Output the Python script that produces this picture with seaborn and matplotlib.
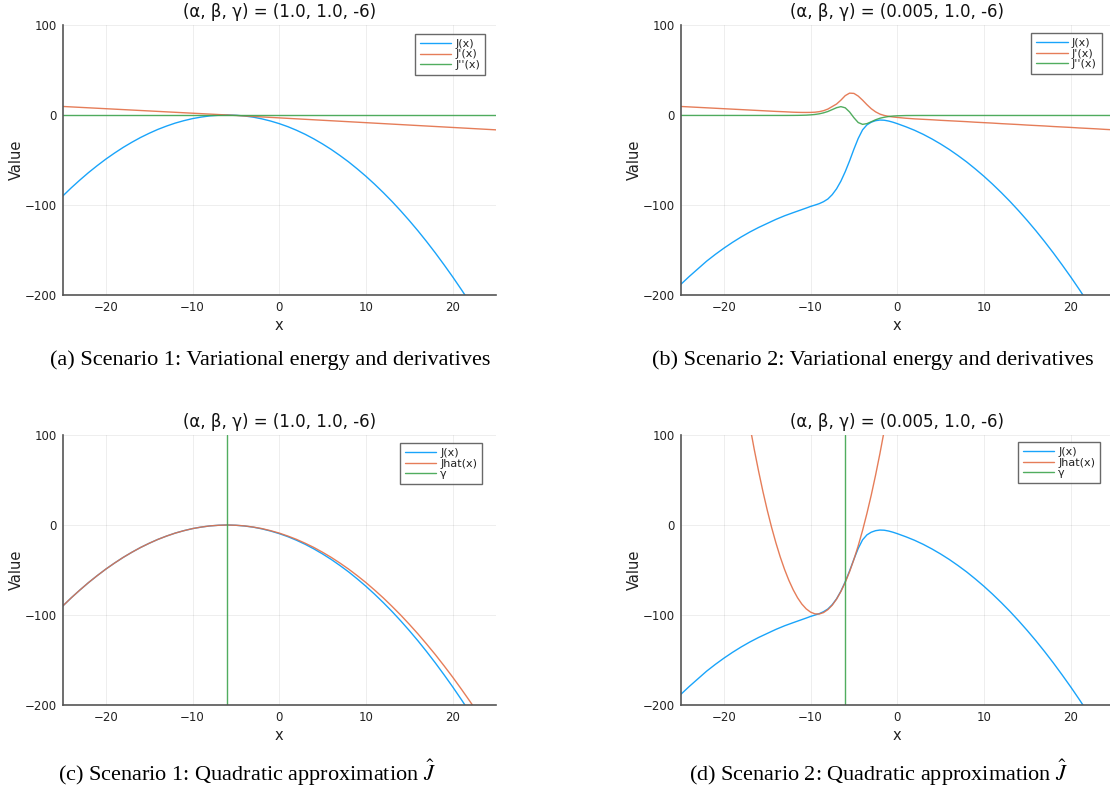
import numpy as np
import pandas as pd
import matplotlib
matplotlib.use("Agg")
import matplotlib.pyplot as plt
import seaborn as sns

# ---------------- data ----------------
# Scenario 1 : J(x) on an integer grid
X1 = list(range(-25, 26))
J1 = [-90.3, -81.0, -72.3, -64.0, -56.3, -49.0, -42.3, -36.0, -30.3, -25.0,
      -20.3, -16.0, -12.3, -9.0, -6.3, -4.0, -2.3, -1.0, -0.3, 0.0,
      -0.3, -1.1, -2.4, -4.3, -6.7, -9.6, -13.0, -17.0, -21.5, -26.6,
      -32.2, -38.3, -45.0, -52.1, -59.9, -68.1, -76.9, -86.2, -96.0, -106.4,
      -117.3, -128.7, -140.7, -153.2, -166.3, -179.8, -193.9, -208.5, -223.7, -239.4,
      -255.6]
JHAT1 = [-90.3, -81.0, -72.3, -64.0, -56.3, -49.0, -42.3, -36.0, -30.3, -25.0,
         -20.3, -16.0, -12.3, -9.0, -6.3, -4.0, -2.3, -1.0, -0.3, 0.0,
         -0.3, -1.0, -2.3, -4.0, -6.3, -9.0, -12.3, -16.0, -20.3, -25.0,
         -30.3, -36.0, -42.3, -49.0, -56.3, -64.0, -72.3, -81.0, -90.3, -100.0,
         -110.3, -121.0, -132.3, -144.0, -156.3, -169.0, -182.3, -196.0, -210.3, -225.0,
         -240.3]
X1D = [-25, -6, 25]
DJ1 = [9.5, 0.0, -16.5]
X1DD = [-25, 25]
DDJ1 = [-0.5, -0.5]

# Scenario 2 : finer grid around the transition
X2 = ([float(v) for v in range(-25, -11)]
      + [-11.5, -11.0, -10.5, -10.0, -9.5, -9.0, -8.5, -8.0, -7.5, -7.0, -6.5, -6.0,
         -5.5, -5.0, -4.5, -4.0, -3.5, -3.0, -2.5, -2.0, -1.5, -1.0, -0.5, 0.0]
      + [float(v) for v in range(1, 26)])
J2 = [-188.5, -179.5, -171.0, -162.5, -155.0, -148.0, -141.5, -135.5, -130.0, -125.0,
      -120.5, -116.0, -112.0, -108.5,
      -106.8, -105.1, -103.4, -101.6, -100.1, -98.5, -96.3, -93.3, -88.5, -82.0, -73.5, -63.0,
      -51.0, -38.0, -26.0, -16.5, -11.0, -8.0, -6.3, -5.6, -5.8, -6.7, -8.0, -9.6,
      -13.1, -17.0, -21.5, -26.6, -32.2, -38.3, -45.0, -52.1, -59.9, -68.1,
      -76.9, -86.2, -96.0, -106.4, -117.3, -128.7, -140.7, -153.2, -166.3, -179.8,
      -193.9, -208.5, -223.7, -239.4, -255.6]
DJ2 = [9.5, 9.0, 8.5, 8.0, 7.5, 7.0, 6.5, 6.0, 5.5, 5.0,
       4.5, 4.0, 3.6, 3.1,
       2.96, 2.86, 2.85, 2.9, 3.1, 3.7, 4.8, 6.6, 9.4, 12.2, 16.5, 21.5,
       24.3, 24.0, 21.0, 16.5, 11.5, 7.0, 3.5, 1.0, -0.5, -1.5, -2.2, -2.7,
       -3.6, -4.3, -4.8, -5.3, -5.9, -6.4, -6.9, -7.4, -8.0, -8.5,
       -9.0, -9.6, -10.1, -10.6, -11.2, -11.7, -12.2, -12.8, -13.3, -13.8,
       -14.4, -14.9, -15.4, -16.0, -16.5]
DDJ2 = [-0.5, -0.5, -0.5, -0.5, -0.5, -0.5, -0.5, -0.5, -0.5, -0.5,
        -0.5, -0.5, -0.5, -0.45,
        -0.4, -0.3, -0.15, 0.15, 0.6, 1.3, 2.4, 3.9, 6.0, 8.1, 9.3, 8.0,
        3.4, -3.0, -8.4, -10.4, -9.6, -7.5, -5.3, -3.6, -2.5, -1.7, -1.2, -0.9,
        -0.6, -0.55, -0.53, -0.53, -0.53, -0.53, -0.53, -0.53, -0.53, -0.53,
        -0.53, -0.53, -0.53, -0.53, -0.53, -0.53, -0.53, -0.53, -0.53, -0.53,
        -0.53, -0.53, -0.53, -0.53, -0.53]
XH2 = [-18.0, -17.5, -17.0, -16.5, -16.0, -15.5, -15.0, -14.5, -14.0, -13.5, -13.0,
       -12.5, -12.0, -11.5, -11.0, -10.5, -10.0, -9.5, -9.0, -8.5, -8.0, -7.5, -7.0,
       -6.5, -6.0, -5.5, -5.0, -4.5, -4.0, -3.5, -3.0, -2.5, -2.0, -1.5, -1.0]
JHAT2 = [167.4, 138.0, 110.3, 84.3, 60.1, 37.5, 16.7, -2.4, -19.7, -35.4, -49.3,
         -61.5, -72.0, -80.8, -87.9, -93.2, -96.8, -98.7, -98.9, -97.3, -94.0, -89.1, -82.4,
         -73.9, -63.8, -51.9, -38.3, -23.0, -6.0, 12.8, 33.2, 55.4, 79.3, 105.0, 132.3]

GAMMA = -6
TITLES = ["(α, β, γ) = (1.0, 1.0, -6)", "(α, β, γ) = (0.005, 1.0, -6)",
          "(α, β, γ) = (1.0, 1.0, -6)", "(α, β, γ) = (0.005, 1.0, -6)"]
CAPTIONS = ["(a) Scenario 1: Variational energy and derivatives",
            "(b) Scenario 2: Variational energy and derivatives",
            r"(c) Scenario 1: Quadratic approximation $\hat{J}$",
            r"(d) Scenario 2: Quadratic approximation $\hat{J}$"]
XTICKS = [-20, -10, 0, 10, 20]
YTICKS = [-200, -100, 0, 100]

C_BLUE, C_ORANGE, C_GREEN = "#009AFA", "#E36F47", "#3EA44E"

# ---------------- style ----------------
sns.set_theme(style="white")
plt.rcParams["font.family"] = ["DejaVu Sans"]
plt.rcParams["mathtext.fontset"] = "stix"

W, H = 1110, 794
fig = plt.figure(figsize=(W / 100, H / 100), dpi=100)

def make_ax(left_px, top_px, right_px, bottom_px):
    return fig.add_axes([left_px / W, 1 - bottom_px / H,
                         (right_px - left_px) / W, (bottom_px - top_px) / H])

axes = [make_ax(62.5, 25, 496, 295), make_ax(680.5, 25, 1114, 295),
        make_ax(62.5, 435, 496, 705), make_ax(680.5, 435, 1114, 705)]

def line(ax, x, y, color, label):
    df = pd.DataFrame({"x": x, "y": y})
    sns.lineplot(data=df, x="x", y="y", ax=ax, color=color, label=label,
                 linewidth=1.0, alpha=0.9, sort=False, estimator=None)

line(axes[0], X1, J1, C_BLUE, "J(x)")
line(axes[0], X1D, DJ1, C_ORANGE, "J'(x)")
line(axes[0], X1DD, DDJ1, C_GREEN, "J''(x)")

line(axes[1], X2, J2, C_BLUE, "J(x)")
line(axes[1], X2, DJ2, C_ORANGE, "J'(x)")
line(axes[1], X2, DDJ2, C_GREEN, "J''(x)")

line(axes[2], X1, J1, C_BLUE, "J(x)")
line(axes[2], X1, JHAT1, C_ORANGE, "Jhat(x)")
axes[2].axvline(GAMMA, color=C_GREEN, linewidth=1.0, alpha=0.9, label="γ")

line(axes[3], X2, J2, C_BLUE, "J(x)")
line(axes[3], XH2, JHAT2, C_ORANGE, "Jhat(x)")
axes[3].axvline(GAMMA, color=C_GREEN, linewidth=1.0, alpha=0.9, label="γ")

leg_anchor = [(0.975, 0.967), (0.972, 0.97), (0.968, 0.97), (0.968, 0.974)]

for i, ax in enumerate(axes):
    ax.set_xlim(-25, 25)
    ax.set_ylim(-200, 100)
    ax.set_xticks(XTICKS)
    ax.set_yticks(YTICKS)
    ax.grid(True, color="#000000", alpha=0.08, linewidth=0.6)
    ax.set_axisbelow(True)
    for s in ["top", "right"]:
        ax.spines[s].set_visible(False)
    for s in ["left", "bottom"]:
        ax.spines[s].set_color("#555555")
        ax.spines[s].set_linewidth(1.2)
    ax.tick_params(axis="both", direction="in", length=4, width=0.8,
                   color="#555555", labelsize=8.5, labelcolor="#222222", pad=4)
    ax.set_xlabel("x", fontsize=10.5, color="#222222", labelpad=3)
    ax.set_ylabel("Value", fontsize=10.5, color="#222222", labelpad=1)
    ax.set_title(TITLES[i], fontsize=12, color="#111111", pad=6)
    leg = ax.legend(loc="upper right", bbox_to_anchor=leg_anchor[i],
                    fontsize=8, frameon=True, fancybox=False, handlelength=2.8,
                    handletextpad=0.4, borderpad=0.45, labelspacing=0.05,
                    borderaxespad=0.0)
    leg.get_frame().set_edgecolor("#444444")
    leg.get_frame().set_linewidth(1.0)
    for t in leg.get_texts():
        t.set_color("#222222")

cap_pos = [(270, 360), (873, 360), (247, 773), (879, 773)]
for (cx, cy), txt in zip(cap_pos, CAPTIONS):
    fig.text(cx / W, 1 - cy / H, txt, ha="center", va="center",
             fontsize=16, family="Liberation Serif", color="#000000")

fig.savefig("out.png", dpi=100)
